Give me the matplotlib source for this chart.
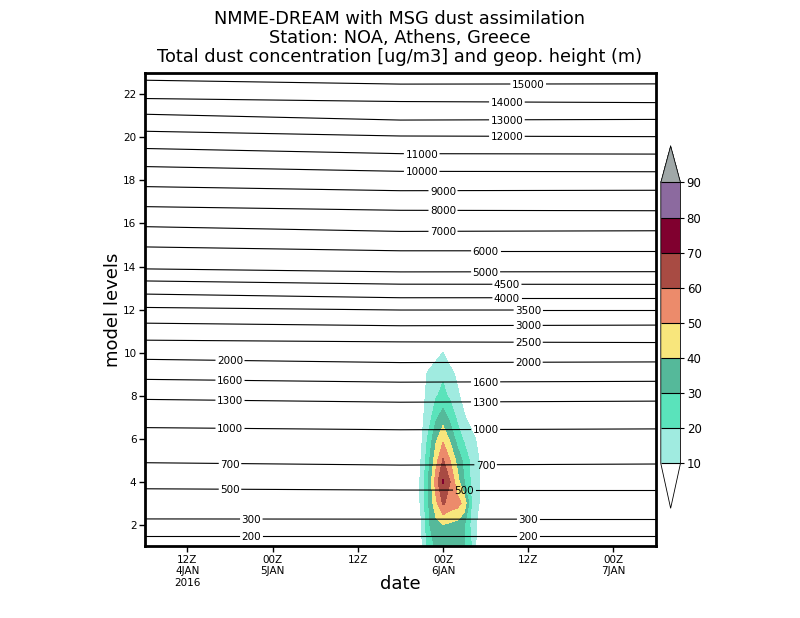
import numpy as np
import matplotlib
matplotlib.use("Agg")
import matplotlib.pyplot as plt
from matplotlib.colors import ListedColormap

# geopotential height contours (m) and the model level where each one lies
hgt_values = [200, 300, 500, 700, 1000, 1300, 1600, 2000, 2500, 3000, 3500,
              4000, 4500, 5000, 6000, 7000, 8000, 9000, 10000, 11000, 12000,
              13000, 14000, 15000]
hgt_hours = [0, 36, 72]   # hours after 06Z 4JAN 2016
hgt_lev_start = [1.49, 2.28, 3.68, 4.89, 6.52, 7.83, 8.76, 9.69, 10.58, 11.37,
                 12.10, 12.72, 13.33, 13.89, 14.91, 15.85, 16.78, 17.71, 18.64,
                 19.48, 20.28, 21.07, 21.80, 22.65]
hgt_lev_mid = [1.49, 2.27, 3.62, 4.78, 6.42, 7.70, 8.63, 9.54, 10.50, 11.25,
               11.98, 12.55, 13.18, 13.75, 14.73, 15.63, 16.61, 17.52, 18.42,
               19.24, 20.06, 20.80, 21.66, 22.47]
hgt_lev_end = [1.49, 2.27, 3.62, 4.83, 6.46, 7.75, 8.67, 9.57, 10.47, 11.28,
               11.98, 12.55, 13.17, 13.76, 14.73, 15.66, 16.59, 17.54, 18.40,
               19.22, 20.03, 20.83, 21.61, 22.48]

# total dust concentration (ug/m3) near 00Z 6JAN
dust_hours = [37, 38, 39, 40, 41, 42, 43, 44, 45, 46, 47, 48, 49]
dust_levels = [1, 2, 3, 4, 5, 6, 7, 8, 9, 10]
dust_conc = [
    [0, 0, 9, 24, 32, 35, 36, 35, 30.5, 20, 4, 0, 0],
    [0, 1, 10, 29, 36, 39.5, 38, 36, 30.5, 17, 7, 2, 0],
    [0, 2, 12.5, 30, 47, 61.5, 56, 54, 47, 20, 10.5, 4, 0],
    [0, 2, 13, 31, 55, 71, 60, 44, 30, 18, 10.5, 4, 0],
    [0, 2, 11, 28, 46, 61, 50, 37, 27, 17, 10.5, 4, 0],
    [0, 2, 9, 23, 38, 48, 38, 26, 18, 13, 8, 3, 0],
    [0, 1, 8, 15, 28, 35, 27, 18, 11, 6, 2, 0, 0],
    [0, 0, 7, 13, 19, 22.5, 18, 12, 6, 2, 0, 0, 0],
    [0, 0, 5, 12, 16, 18.6, 13, 8, 3, 0, 0, 0, 0],
    [0, 0, 0, 2, 6, 10.2, 5, 1, 0, 0, 0, 0, 0],
]
conc_levels = [10, 20, 30, 40, 50, 60, 70, 80, 90]

xtick_hours = [6, 18, 30, 42, 54, 66]
xtick_labels = ["12Z\n4JAN\n2016", "00Z\n5JAN", "12Z", "00Z\n6JAN", "12Z",
                "00Z\n7JAN"]
ytick_levels = [2, 4, 6, 8, 10, 12, 14, 16, 18, 20, 22]

# where the contour labels sit (hours), layout only
label_hours = {
    200: [15, 54], 300: [15, 54], 500: [12, 45], 700: [12, 48],
    1000: [12, 48], 1300: [12, 48], 1600: [12, 48], 2000: [12, 54],
    2500: [54], 3000: [54], 3500: [54], 4000: [51], 4500: [51],
    5000: [48], 6000: [48], 7000: [42], 8000: [42], 9000: [42],
    10000: [39], 11000: [39], 12000: [51], 13000: [51], 14000: [51],
    15000: [54],
}

shade_colors = ["#a0ebe0", "#5ae3bb", "#55b99a", "#f8e67c", "#ec8b6b",
                "#a84b43", "#80002f", "#8c6a9f"]
over_color = "#a0a8a8"


def main():
    fig = plt.figure(figsize=(8, 6.18), dpi=100)
    ax = fig.add_axes([0.181, 0.1157, 0.639, 0.7667])

    cmap = ListedColormap(shade_colors)
    cmap.set_over(over_color)
    cmap.set_under((1, 1, 1, 0))
    cs = ax.contourf(dust_hours, dust_levels, np.array(dust_conc),
                     levels=conc_levels, cmap=cmap, extend="both", zorder=1)

    ax.set_xlim(0, 72)
    ax.set_ylim(1, 23)

    # contour labels first, so the lines can be broken around them
    lev_table = np.array([hgt_lev_start, hgt_lev_mid, hgt_lev_end]).T
    texts = {}
    for i, h in enumerate(hgt_values):
        texts[h] = []
        for lh in label_hours[h]:
            ly = np.interp(lh, hgt_hours, lev_table[i])
            t = ax.text(lh, ly, str(h), fontsize=7.5, ha="center",
                        va="center_baseline", zorder=3)
            texts[h].append(t)

    fig.canvas.draw()
    renderer = fig.canvas.get_renderer()
    inv = ax.transData.inverted()
    for i, h in enumerate(hgt_values):
        cuts = []
        for t in texts[h]:
            bb = t.get_window_extent(renderer)
            a = inv.transform((bb.x0 - 2, bb.y0))[0]
            b = inv.transform((bb.x1 + 2, bb.y0))[0]
            cuts.append((a, b))
        cuts.sort()
        start = hgt_hours[0]
        pieces = []
        for a, b in cuts:
            pieces.append((start, a))
            start = b
        pieces.append((start, hgt_hours[-1]))
        for s, e in pieces:
            xs = [s] + [x for x in hgt_hours if s < x < e] + [e]
            ys = np.interp(xs, hgt_hours, lev_table[i])
            ax.plot(xs, ys, color="black", lw=0.8, zorder=2)

    ax.set_xticks(xtick_hours)
    ax.set_xticklabels(xtick_labels, fontsize=7.5, linespacing=1.2)
    ax.set_yticks(ytick_levels)
    ax.set_yticklabels([str(v) for v in ytick_levels], fontsize=7.5)
    ax.tick_params(direction="out", length=4, width=1, pad=2)
    for sp in ax.spines.values():
        sp.set_linewidth(2)

    fig.text(0.141, 1 - 310 / 618, "model levels", rotation=90,
             fontsize=13, ha="center", va="center")
    fig.text(0.5, 1 - 584 / 618, "date", fontsize=13, ha="center",
             va="center")

    titles = ["NMME-DREAM with MSG dust assimilation",
              "Station: NOA, Athens, Greece",
              "Total dust concentration [ug/m3] and geop. height (m)"]
    for k, line in enumerate(titles):
        fig.text(0.5, 1 - (19 + 19 * k) / 618, line, fontsize=12.8,
                 ha="center", va="center")

    cax = fig.add_axes([0.826, 0.1775, 0.0246, 0.5863])
    cb = fig.colorbar(cs, cax=cax, extendfrac=(0.16, 0.13), drawedges=True)
    cb.set_ticks(conc_levels)
    cb.ax.tick_params(labelsize=8.5, length=3, width=0.8, pad=1.5)
    cb.outline.set_linewidth(0.6)
    cb.dividers.set_linewidth(0.8)

    fig.savefig("out.png", dpi=100)


if __name__ == "__main__":
    main()
